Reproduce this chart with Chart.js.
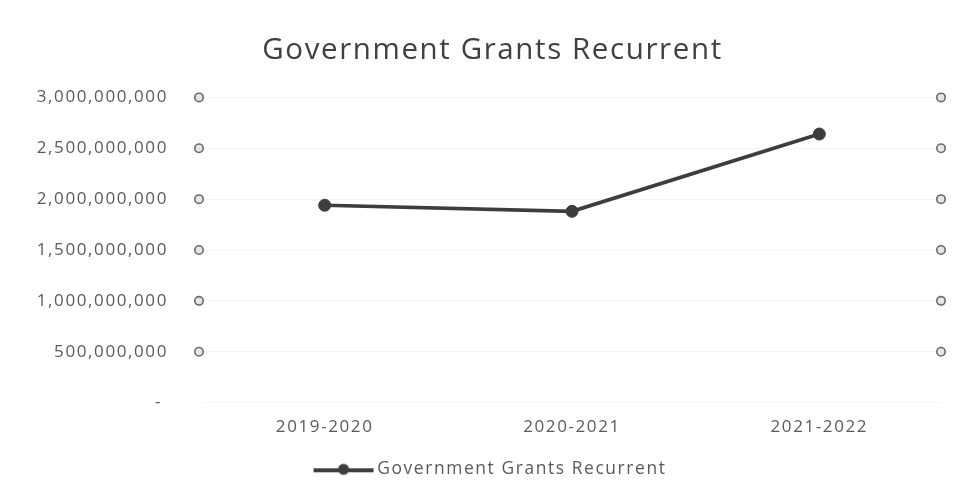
<!DOCTYPE html>
<html>
<head>
<meta charset="utf-8">
<script src="https://cdn.jsdelivr.net/npm/chart.js@4/dist/chart.umd.min.js"></script>
<style>
  html, body { margin: 0; padding: 0; background: #ffffff; }
  #wrap { width: 963px; height: 502px; position: relative; }
</style>
</head>
<body>
<div id="wrap"><canvas id="c" width="963" height="502"></canvas></div>
<script>
// ---- data ----
const categories = ['2019-2020', '2020-2021', '2021-2022'];
const seriesName = 'Government Grants Recurrent';
const grantValues = [1940000000, 1880000000, 2640000000];
const yTickValues = [0, 500000000, 1000000000, 1500000000, 2000000000, 2500000000, 3000000000];
const chartTitle = 'Government Grants Recurrent';

const TEXT = '#5a5a5a';
const LINE = '#3d3d3d';

// legend marker: line with a dot in the middle
function legendMarker() {
  const c = document.createElement('canvas');
  c.width = 62; c.height = 14;
  const g = c.getContext('2d');
  g.strokeStyle = LINE; g.lineWidth = 4; g.lineCap = 'butt';
  g.beginPath(); g.moveTo(1, 8); g.lineTo(61, 8); g.stroke();
  g.fillStyle = LINE;
  g.beginPath(); g.arc(31, 7, 5.5, 0, Math.PI * 2); g.fill();
  return c;
}
const marker = legendMarker();

const spacingPlugin = {
  id: 'spacing',
  beforeLayout(chart) { chart.ctx.letterSpacing = '1.6px'; },
  beforeDraw(chart) { chart.ctx.letterSpacing = '1.6px'; }
};

// centre title and legend slightly right of the canvas centre, as in the reference
const shiftPlugin = {
  id: 'shiftBlocks',
  afterLayout(chart) {
    const d = 21;
    [chart.titleBlock, chart.legend].forEach(b => {
      if (!b) return;
      b.left += d; b.right += d;
    });
  }
};

const circlesPlugin = {
  id: 'edgeCircles',
  afterDraw(chart) {
    const ctx = chart.ctx;
    const y = chart.scales.y;
    const a = chart.chartArea;
    ctx.save();
    y.ticks.forEach(t => {
      if (t.value <= 0) return;
      const py = y.getPixelForValue(t.value);
      [a.left - 2, a.right - 2].forEach(px => {
        ctx.beginPath();
        ctx.arc(px, py, 4.2, 0, Math.PI * 2);
        ctx.fillStyle = '#e6e6e6';
        ctx.fill();
        ctx.lineWidth = 1.6;
        ctx.strokeStyle = '#6a6a6a';
        ctx.stroke();
      });
    });
    ctx.restore();
  }
};

new Chart(document.getElementById('c'), {
  type: 'line',
  data: {
    labels: categories,
    datasets: [{
      label: seriesName,
      data: grantValues,
      borderColor: LINE,
      backgroundColor: LINE,
      borderWidth: 3.6,
      pointRadius: 6,
      pointBackgroundColor: LINE,
      pointBorderColor: LINE,
      pointBorderWidth: 1,
      pointStyle: 'circle',
      tension: 0,
      fill: false
    }]
  },
  options: {
    responsive: false,
    animation: false,
    devicePixelRatio: 1,
    layout: { padding: { left: 0, right: 20, top: 0, bottom: 14 } },
    plugins: {
      title: {
        display: true,
        text: chartTitle,
        color: '#404040',
        font: { family: 'Open Sans', size: 29.5, weight: 'normal' },
        padding: { top: 33, bottom: 29 }
      },
      legend: {
        display: true,
        position: 'bottom',
        labels: {
          color: TEXT,
          font: { family: 'Open Sans', size: 17.4 },
          usePointStyle: true,
          pointStyleWidth: 50,
          boxHeight: 14,
          padding: 10,
          generateLabels(chart) {
            const ds = chart.data.datasets[0];
            return [{
              text: ds.label,
              fillStyle: LINE,
              strokeStyle: LINE,
              lineWidth: 0,
              pointStyle: marker,
              datasetIndex: 0,
              hidden: false,
              fontColor: TEXT
            }];
          }
        }
      },
      tooltip: { enabled: false }
    },
    scales: {
      x: {
        offset: true,
        grid: { display: false, drawTicks: false },
        border: { display: false },
        ticks: {
          color: TEXT,
          font: { family: 'Open Sans', size: 17 },
          padding: 14,
          maxRotation: 0
        },
        afterFit(scale) { scale.height = 48; }
      },
      y: {
        min: 0,
        max: 3000000000,
        afterBuildTicks(scale) {
          scale.ticks = yTickValues.map(v => ({ value: v }));
        },
        grid: {
          color: 'rgba(0,0,0,0.04)',
          drawTicks: false,
          lineWidth: 1
        },
        border: { display: false },
        ticks: {
          color: TEXT,
          font: { family: 'Open Sans', size: 17 },
          padding: 33,
          callback(v) { return v === 0 ? '- ' : Number(v).toLocaleString('en-US'); }
        },
        afterFit(scale) { scale.width = 201; }
      }
    }
  },
  plugins: [spacingPlugin, shiftPlugin, circlesPlugin]
});
</script>
</body>
</html>
